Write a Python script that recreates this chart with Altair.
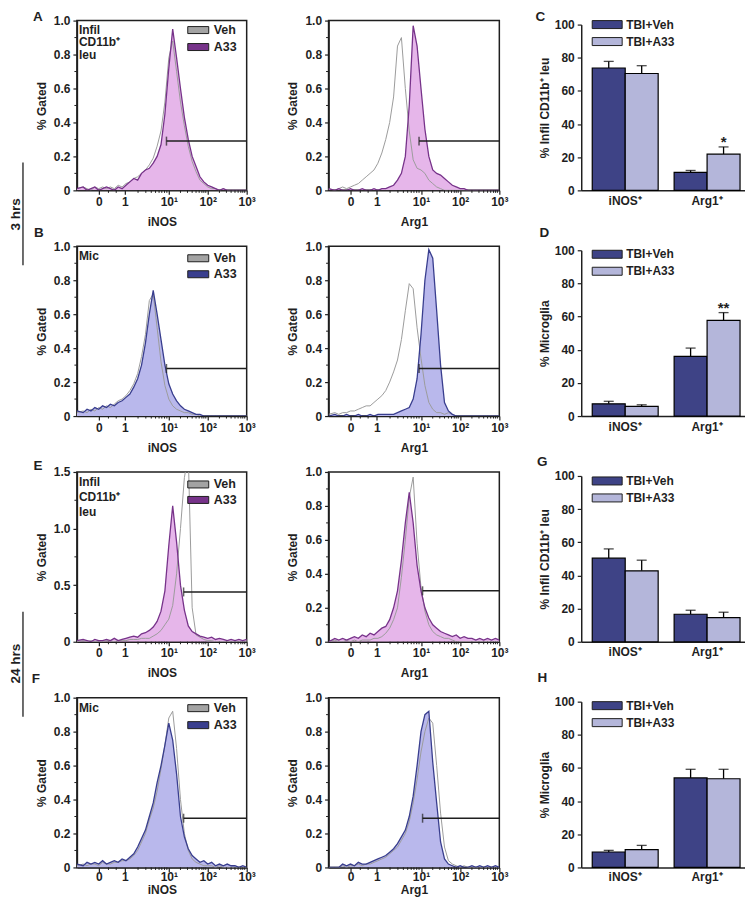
import json
import altair as alt
import pandas as pd

FONT = "Liberation Sans"
INK = "#1f1f1f"
GRAY = "#9c9c9c"
VEH_BOX = "#a3a3a3"
PURPLE = "#77338a"
PINK = "#e6b6ea"
NAVY = "#393e8e"
LAVENDER = "#b9b8ec"
BAR_DARK = "#3e4386"
BAR_LIGHT = "#b4b6da"

# ---------------- data ----------------
# fluorescence positions (display units of the biexponential axis)
T = [-1.36, -1.2, -1.1, -1.0, -0.9, -0.8, -0.7, -0.6, -0.5, -0.4, -0.3,
     -0.2, -0.1, 0.0, 0.1, 0.2, 0.3, 0.4, 0.5, 0.6, 0.7, 0.8,
     0.9, 1.0, 1.1, 1.2, 1.3, 1.4, 1.5, 1.6, 1.7, 1.8, 1.9,
     2.0, 2.1, 2.2, 2.3, 2.4, 2.5, 2.6, 2.7, 2.8, 2.9, 3.0]

X_MAJOR = [-0.8, -0.13, 1, 2, 3]
X_LABELS = ["0", "1", "10¹", "10²", "10³"]
X_MINOR = [-0.55, -0.35, 0.21, 0.41, 0.55, 0.66, 0.75, 0.82, 0.89, 0.95,
           1.3, 1.48, 1.6, 1.7, 1.78, 1.85, 1.9, 1.95,
           2.3, 2.48, 2.6, 2.7, 2.78, 2.85, 2.9, 2.95]

# 3 hrs, infiltrating CD11b+ leukocytes
A_INOS_VEH = [0.01, 0.02, 0.01, 0.0, 0.02, 0.01, 0.02, 0.01, 0.02, 0.01, 0.03,
              0.02, 0.04, 0.05, 0.07, 0.08, 0.1, 0.12, 0.15, 0.19, 0.26, 0.35,
              0.52, 0.78, 0.88, 0.7, 0.52, 0.38, 0.26, 0.17, 0.11, 0.06, 0.04,
              0.02, 0.01, 0.01, 0.0, 0.01, 0.0, 0.0, 0.0, 0.0, 0.0, 0.0]
A_INOS_A33 = [0.01, 0.02, 0.0, 0.01, 0.02, 0.0, 0.01, 0.02, 0.01, 0.0, 0.02,
              0.01, 0.03, 0.05, 0.07, 0.06, 0.1, 0.12, 0.13, 0.16, 0.2, 0.27,
              0.45, 0.72, 0.95, 0.78, 0.6, 0.43, 0.3, 0.2, 0.14, 0.08, 0.05,
              0.03, 0.02, 0.01, 0.0, 0.01, 0.0, 0.0, 0.0, 0.0, 0.0, 0.0]
A_ARG1_VEH = [0.01, 0.0, 0.01, 0.02, 0.01, 0.02, 0.03, 0.04, 0.06, 0.08, 0.1,
              0.12, 0.16, 0.22, 0.3, 0.4, 0.55, 0.85, 0.9, 0.6, 0.35, 0.18,
              0.13, 0.12, 0.1, 0.06, 0.04, 0.02, 0.01, 0.0, 0.0, 0.0, 0.0,
              0.0, 0.0, 0.0, 0.0, 0.0, 0.0, 0.0, 0.0, 0.0, 0.0, 0.0]
A_ARG1_A33 = [0.01, 0.0, 0.01, 0.0, 0.0, 0.01, 0.0, 0.0, 0.01, 0.0, 0.0,
              0.01, 0.0, 0.01, 0.01, 0.02, 0.03, 0.06, 0.1, 0.2, 0.5, 0.97,
              0.85, 0.6, 0.36, 0.2, 0.12, 0.1, 0.09, 0.07, 0.05, 0.03, 0.02,
              0.01, 0.01, 0.0, 0.0, 0.0, 0.0, 0.0, 0.0, 0.0, 0.0, 0.0]
# 3 hrs, microglia
B_INOS_VEH = [0.02, 0.03, 0.02, 0.04, 0.03, 0.05, 0.04, 0.06, 0.05, 0.07, 0.09,
              0.1, 0.12, 0.15, 0.19, 0.25, 0.35, 0.48, 0.68, 0.72, 0.52, 0.32,
              0.18, 0.1, 0.06, 0.04, 0.03, 0.02, 0.02, 0.01, 0.01, 0.0, 0.0,
              0.0, 0.0, 0.0, 0.0, 0.0, 0.0, 0.0, 0.0, 0.0, 0.0, 0.0]
B_INOS_A33 = [0.03, 0.02, 0.04, 0.03, 0.05, 0.04, 0.06, 0.05, 0.07, 0.06, 0.08,
              0.09, 0.11, 0.13, 0.17, 0.22, 0.3, 0.43, 0.6, 0.74, 0.6, 0.45,
              0.3, 0.19, 0.13, 0.09, 0.06, 0.04, 0.03, 0.02, 0.01, 0.01, 0.0,
              0.0, 0.0, 0.0, 0.0, 0.0, 0.0, 0.0, 0.0, 0.0, 0.0, 0.0]
B_ARG1_VEH = [0.01, 0.02, 0.01, 0.02, 0.02, 0.03, 0.03, 0.04, 0.05, 0.06, 0.06,
              0.08, 0.1, 0.12, 0.15, 0.2, 0.26, 0.33, 0.45, 0.62, 0.78, 0.75,
              0.52, 0.34, 0.18, 0.08, 0.04, 0.02, 0.02, 0.01, 0.02, 0.01, 0.0,
              0.0, 0.0, 0.0, 0.0, 0.0, 0.0, 0.0, 0.0, 0.0, 0.0, 0.0]
B_ARG1_A33 = [0.0, 0.01, 0.0, 0.0, 0.01, 0.0, 0.0, 0.01, 0.0, 0.0, 0.01,
              0.0, 0.01, 0.01, 0.01, 0.01, 0.01, 0.02, 0.03, 0.04, 0.05, 0.1,
              0.22, 0.48, 0.8, 0.98, 0.93, 0.62, 0.3, 0.08, 0.03, 0.01, 0.0,
              0.0, 0.0, 0.0, 0.0, 0.0, 0.0, 0.0, 0.0, 0.0, 0.0, 0.0]
# 24 hrs, infiltrating CD11b+ leukocytes
E_INOS_VEH = [0.0, 0.01, 0.0, 0.01, 0.0, 0.01, 0.0, 0.01, 0.01, 0.0, 0.01,
              0.01, 0.01, 0.02, 0.02, 0.02, 0.03, 0.03, 0.03, 0.05, 0.07, 0.1,
              0.15, 0.2, 0.32, 0.6, 1.0, 1.45, 1.65, 0.3, 0.06, 0.04, 0.02,
              0.01, 0.01, 0.0, 0.0, 0.0, 0.0, 0.0, 0.0, 0.0, 0.0, 0.0]
E_INOS_A33 = [0.01, 0.02, 0.01, 0.0, 0.02, 0.01, 0.01, 0.02, 0.01, 0.03, 0.01,
              0.02, 0.03, 0.04, 0.05, 0.04, 0.07, 0.08, 0.1, 0.13, 0.18, 0.27,
              0.45, 0.85, 1.2, 0.88, 0.5, 0.28, 0.14, 0.09, 0.07, 0.05, 0.04,
              0.03, 0.04, 0.02, 0.03, 0.02, 0.01, 0.02, 0.01, 0.02, 0.01, 0.02]
E_ARG1_VEH = [0.0, 0.01, 0.0, 0.0, 0.01, 0.0, 0.01, 0.0, 0.01, 0.01, 0.01,
              0.02, 0.02, 0.03, 0.05, 0.08, 0.13, 0.2, 0.38, 0.6, 0.85, 0.97,
              0.58, 0.32, 0.18, 0.1, 0.06, 0.04, 0.03, 0.02, 0.02, 0.01, 0.0,
              0.0, 0.0, 0.0, 0.0, 0.0, 0.0, 0.0, 0.0, 0.0, 0.0, 0.0]
E_ARG1_A33 = [0.0, 0.02, 0.01, 0.02, 0.01, 0.02, 0.03, 0.02, 0.04, 0.03, 0.05,
              0.04, 0.06, 0.08, 0.09, 0.13, 0.2, 0.3, 0.48, 0.7, 0.88, 0.7,
              0.45, 0.3, 0.2, 0.14, 0.1, 0.08, 0.06, 0.05, 0.04, 0.03, 0.04,
              0.02, 0.03, 0.02, 0.02, 0.01, 0.02, 0.01, 0.02, 0.01, 0.02, 0.01]
# 24 hrs, microglia
F_INOS_VEH = [0.01, 0.02, 0.01, 0.02, 0.02, 0.01, 0.03, 0.02, 0.02, 0.03, 0.03,
              0.04, 0.04, 0.05, 0.07, 0.1, 0.15, 0.2, 0.28, 0.35, 0.45, 0.58,
              0.72, 0.88, 0.92, 0.7, 0.4, 0.2, 0.1, 0.05, 0.03, 0.02, 0.01,
              0.01, 0.01, 0.0, 0.01, 0.0, 0.0, 0.0, 0.0, 0.0, 0.0, 0.0]
F_INOS_A33 = [0.02, 0.01, 0.03, 0.02, 0.03, 0.02, 0.04, 0.02, 0.03, 0.04, 0.03,
              0.05, 0.04, 0.06, 0.08, 0.12, 0.17, 0.22, 0.3, 0.38, 0.5, 0.6,
              0.72, 0.85, 0.75, 0.55, 0.3, 0.18, 0.11, 0.07, 0.05, 0.03, 0.04,
              0.02, 0.03, 0.01, 0.02, 0.01, 0.02, 0.01, 0.01, 0.0, 0.01, 0.0]
F_ARG1_VEH = [0.0, 0.0, 0.0, 0.01, 0.0, 0.01, 0.01, 0.02, 0.01, 0.02, 0.02,
              0.03, 0.04, 0.05, 0.06, 0.08, 0.1, 0.12, 0.16, 0.2, 0.27, 0.38,
              0.52, 0.68, 0.8, 0.88, 0.85, 0.6, 0.32, 0.12, 0.04, 0.02, 0.01,
              0.0, 0.01, 0.0, 0.0, 0.0, 0.0, 0.0, 0.0, 0.0, 0.0, 0.0]
F_ARG1_A33 = [0.0, 0.0, 0.0, 0.02, 0.01, 0.02, 0.01, 0.03, 0.02, 0.02, 0.03,
              0.04, 0.05, 0.06, 0.07, 0.09, 0.11, 0.14, 0.18, 0.22, 0.3, 0.42,
              0.6, 0.8, 0.9, 0.92, 0.62, 0.38, 0.15, 0.05, 0.02, 0.01, 0.0,
              0.01, 0.0, 0.0, 0.01, 0.0, 0.01, 0.0, 0.01, 0.0, 0.01, 0.0]

# gates: (start position, level)
GATES = {
    "A_iNOS": (0.94, 0.29), "A_Arg1": (0.95, 0.29),
    "B_iNOS": (0.94, 0.28), "B_Arg1": (0.95, 0.28),
    "E_iNOS": (1.38, 0.44), "E_Arg1": (1.04, 0.30),
    "F_iNOS": (1.38, 0.29), "F_Arg1": (1.04, 0.29),
}

# bar charts: order iNOS+, Arg1+
MARKERS = ["iNOS⁺", "Arg1⁺"]
GROUPS = ["TBI+Veh", "TBI+A33"]
C_VEH, C_VEH_TOP = [73.8, 10.9], [77.8, 12.0]
C_A33, C_A33_TOP = [70.5, 21.8], [75.2, 26.2]
C_STARS = ["", "*"]
D_VEH, D_VEH_TOP = [7.4, 36.0], [8.9, 41.0]
D_A33, D_A33_TOP = [5.8, 57.7], [6.8, 62.4]
D_STARS = ["", "**"]
G_VEH, G_VEH_TOP = [50.4, 16.6], [56.0, 19.0]
G_A33, G_A33_TOP = [42.8, 14.6], [49.2, 17.8]
G_STARS = ["", ""]
H_VEH, H_VEH_TOP = [9.3, 54.0], [10.3, 59.2]
H_A33, H_A33_TOP = [10.8, 53.5], [13.3, 59.2]
H_STARS = ["", ""]

# ---------------- helpers ----------------
ONE = pd.DataFrame({"k": [0]})
W1, W2, W3, H = 170, 171, 164, 170


def txt(s, x, y, size=12, align="left", baseline="middle", angle=0):
    return alt.Chart(ONE).mark_text(
        text=s, font=FONT, fontSize=size, fontWeight="bold", color=INK,
        align=align, baseline=baseline, angle=angle,
    ).encode(x=alt.value(x), y=alt.value(y))


def box(x0, x1, y0, y1, fill):
    return alt.Chart(ONE).mark_rect(fill=fill, stroke=INK, strokeWidth=1).encode(
        x=alt.value(x0), x2=alt.value(x1), y=alt.value(y0), y2=alt.value(y1))


def vline(x, y0, y1):
    return alt.Chart(ONE).mark_rule(color=INK, strokeWidth=1.3).encode(
        x=alt.value(x), y=alt.value(y0), y2=alt.value(y1))


def label_expr(values, labels):
    expr = "''"
    for v, lab in reversed(list(zip(values, labels))):
        expr = f"datum.value == {v} ? '{lab}' : ({expr})"
    return expr


X_AXIS_EXPR = label_expr(X_MAJOR, X_LABELS)


def histogram(veh, a33, line_col, fill_col, xtitle, gate, width, ymax=1.0, extras=(),
              label_pad=2, title_pad=9):
    if ymax == 1.0:
        ymaj = [0, 0.2, 0.4, 0.6, 0.8, 1.0]
        ymin = [0.1, 0.3, 0.5, 0.7, 0.9]
    else:
        ymaj = [0, 0.5, 1.0, 1.5]
        ymin = [0.25, 0.75, 1.25]
    ylabel = "datum.value == 0 ? '0' : format(datum.value, '.1f')"
    xax = alt.Axis(values=X_MAJOR, labelExpr=X_AXIS_EXPR, title=xtitle, tickSize=4,
                   labelFlush=False, labelOverlap=False, labelPadding=label_pad,
                   titlePadding=title_pad)
    yax = alt.Axis(values=ymaj, labelExpr=ylabel, title="% Gated", tickSize=4,
                   labelFlush=False, labelOverlap=False, labelPadding=3, titlePadding=5)
    xsc = alt.Scale(domain=[-1.36, 3.0], nice=False, zero=False)
    ysc = alt.Scale(domain=[0, ymax], nice=False)
    X = alt.X("t:Q", scale=xsc, axis=xax)
    Y = alt.Y("v:Q", scale=ysc, axis=yax)
    dv = pd.DataFrame({"t": T, "v": veh})
    da = pd.DataFrame({"t": T, "v": a33})
    gd = pd.DataFrame({"t": [gate[0]], "t2": [3.0], "v": [gate[1]]})
    xm = pd.DataFrame({"t": X_MINOR})
    ym = pd.DataFrame({"v": ymin})
    layers = [
        alt.Chart(da).mark_area(color=fill_col, clip=True).encode(X, Y),
        alt.Chart(dv).mark_line(color=GRAY, strokeWidth=1, clip=True).encode(X, Y),
        alt.Chart(da).mark_line(color=line_col, strokeWidth=1.3, clip=True).encode(X, Y),
        alt.Chart(gd).mark_rule(color=INK, strokeWidth=1.5).encode(X, alt.X2("t2:Q"), Y),
        alt.Chart(gd).mark_tick(color=INK, thickness=1.5, size=9, orient="vertical").encode(X, Y),
        alt.Chart(xm).mark_rule(color=INK, strokeWidth=1).encode(
            X, y=alt.value(H), y2=alt.value(H + 2.5)),
        alt.Chart(ym).mark_rule(color=INK, strokeWidth=1).encode(
            Y, x=alt.value(0), x2=alt.value(-2.5)),
    ]
    layers += list(extras)
    return alt.layer(*layers).properties(
        width=width, height=H,
        view=alt.ViewBackground(stroke=INK, strokeWidth=1.5),
    )


def hist_legend(line_col, y1, y2):
    return [box(111, 132, y1 - 3.5, y1 + 3.5, VEH_BOX), txt("Veh", 137, y1, size=12.5),
            box(111, 132, y2 - 3.5, y2 + 3.5, line_col), txt("A33", 137, y2, size=12.5)]


def barchart(veh, veh_top, a33, a33_top, stars, ytitle, extras=(), label_pad=5):
    rows = []
    for i, m in enumerate(MARKERS):
        rows.append({"marker": m, "group": GROUPS[0], "mean": veh[i], "top": veh_top[i], "star": ""})
        rows.append({"marker": m, "group": GROUPS[1], "mean": a33[i], "top": a33_top[i], "star": stars[i]})
    df = pd.DataFrame(rows)
    base = alt.Chart(df)
    X = alt.X("marker:N", sort=MARKERS,
              scale=alt.Scale(paddingInner=0.195, paddingOuter=0.0976, align=0.69),
              axis=alt.Axis(title=None, labelAngle=0, ticks=False, labelPadding=label_pad))
    XO = alt.XOffset("group:N", sort=GROUPS, scale=alt.Scale(paddingInner=0, paddingOuter=0))
    ysc = alt.Scale(domain=[0, 100], range=[170, 4], nice=False)
    yax = alt.Axis(values=[0, 20, 40, 60, 80, 100], title=ytitle, tickSize=4,
                   labelFlush=False, labelPadding=3, titlePadding=3)
    layers = [
        base.mark_rule(color="black", strokeWidth=1.3).encode(
            X, XO, alt.Y("mean:Q", scale=ysc, axis=yax), alt.Y2("top:Q")),
        base.mark_tick(color="black", thickness=1.3, size=10, orient="horizontal").encode(
            X, XO, alt.Y("top:Q", scale=ysc, axis=yax)),
        base.mark_bar(stroke="black", strokeWidth=1.2).encode(
            X, XO, alt.Y("mean:Q", scale=ysc, axis=yax),
            color=alt.Color("group:N", scale=alt.Scale(domain=GROUPS, range=[BAR_DARK, BAR_LIGHT]),
                            legend=None)),
        base.transform_filter("datum.star != ''").mark_text(
            font=FONT, fontSize=15, fontWeight="bold", color=INK, baseline="alphabetic", dy=0).encode(
            X, XO, alt.Y("top:Q", scale=ysc, axis=yax), text="star:N"),
    ]
    layers += list(extras)
    return alt.layer(*layers).properties(width=W3, height=H)


def bar_legend(y1, y2):
    return [box(11, 41, y1 - 4, y1 + 4, BAR_DARK), txt("TBI+Veh", 45, y1, size=12),
            box(11, 41, y2 - 4, y2 + 4, BAR_LIGHT), txt("TBI+A33", 45, y2, size=12)]


# ---------------- panels ----------------
hA1 = histogram(A_INOS_VEH, A_INOS_A33, PURPLE, PINK, "iNOS", GATES["A_iNOS"], W1, extras=[
    *hist_legend(PURPLE, 9.5, 26.5),
    txt("Infil", 2, 9), txt("CD11b⁺", 2, 21.5), txt("leu", 2, 34),
    txt("A", -39, -4, size=13.5, align="center"),
    txt("3 hrs", -61, 194, size=13.5, align="center", angle=270),
    vline(-54, 142, 245),
])
hA2 = histogram(A_ARG1_VEH, A_ARG1_A33, PURPLE, PINK, "Arg1", GATES["A_Arg1"], W2)
bC = barchart(C_VEH, C_VEH_TOP, C_A33, C_A33_TOP, C_STARS, "% Infil CD11b⁺ leu", extras=[
    *bar_legend(4, 21), txt("C", -41, -4, size=13.5, align="center")])

hB1 = histogram(B_INOS_VEH, B_INOS_A33, NAVY, LAVENDER, "iNOS", GATES["B_iNOS"], W1, extras=[
    *hist_legend(NAVY, 12, 28), txt("Mic", 2, 10),
    txt("B", -38, -13, size=13.5, align="center"),
])
hB2 = histogram(B_ARG1_VEH, B_ARG1_A33, NAVY, LAVENDER, "Arg1", GATES["B_Arg1"], W2)
bD = barchart(D_VEH, D_VEH_TOP, D_A33, D_A33_TOP, D_STARS, "% Microglia", extras=[
    *bar_legend(8, 25), txt("D", -37, -13, size=13.5, align="center")])

hE1 = histogram(E_INOS_VEH, E_INOS_A33, PURPLE, PINK, "iNOS", GATES["E_iNOS"], W1, ymax=1.5, extras=[
    *hist_legend(PURPLE, 12.5, 28),
    txt("Infil", 2, 10), txt("CD11b⁺", 2, 25), txt("leu", 2, 40),
    txt("E", -39, -6, size=13.5, align="center"),
    txt("24 hrs", -61, 192, size=13.5, align="center", angle=270),
    vline(-54, 140, 245),
])
hE2 = histogram(E_ARG1_VEH, E_ARG1_A33, PURPLE, PINK, "Arg1", GATES["E_Arg1"], W2)
bG = barchart(G_VEH, G_VEH_TOP, G_A33, G_A33_TOP, G_STARS, "% Infil CD11b⁺ leu", extras=[
    *bar_legend(9, 26), txt("G", -39, -10, size=13.5, align="center")])

hF1 = histogram(F_INOS_VEH, F_INOS_A33, NAVY, LAVENDER, "iNOS", GATES["F_iNOS"], W1, extras=[
    *hist_legend(NAVY, 10.5, 27.5), txt("Mic", 2, 10),
    txt("F", -41, -19, size=13.5, align="center"),
], label_pad=0, title_pad=2)
hF2 = histogram(F_ARG1_VEH, F_ARG1_A33, NAVY, LAVENDER, "Arg1", GATES["F_Arg1"], W2,
                label_pad=0, title_pad=2)
bH = barchart(H_VEH, H_VEH_TOP, H_A33, H_A33_TOP, H_STARS, "% Microglia", extras=[
    *bar_legend(8, 25), txt("H", -39, -20, size=13.5, align="center")], label_pad=4)

panels = [hA1, hA2, bC, hB1, hB2, bD, hE1, hE2, bG, hF1, hF2, bH]

chart = alt.concat(*panels, columns=3, spacing={"row": 56, "column": 82}, bounds="flush").properties(
    padding={"left": 0, "top": 0, "right": 0, "bottom": 0},
    background="white",
).configure_view(strokeWidth=0).configure_axis(
    labelFont=FONT, titleFont=FONT, labelFontWeight="bold", titleFontWeight="bold",
    labelFontSize=12, titleFontSize=12, labelColor=INK, titleColor=INK,
    domainColor=INK, tickColor=INK, domainWidth=1.5, tickWidth=1.2, grid=False,
).configure_text(font=FONT)

chart.save("out.html", embed_options={"renderer": "svg", "actions": False})
